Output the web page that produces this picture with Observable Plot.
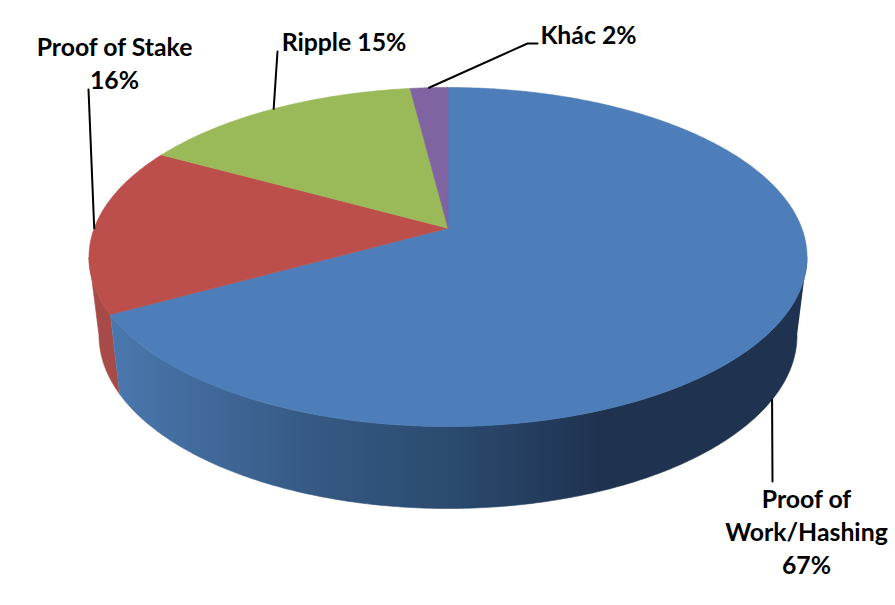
<!DOCTYPE html>
<html>
<head>
<meta charset="utf-8">
<script src="https://cdn.jsdelivr.net/npm/d3@7"></script>
<script src="https://cdn.jsdelivr.net/npm/@observablehq/plot@0.6"></script>
<style>
html,body{margin:0;padding:0;background:#fff}
svg{display:block}
</style>
</head>
<body>
<div id="chart"></div>
<script>
// Data: clockwise from 12 o'clock
const categories = ["Proof of\nWork/Hashing", "Proof of Stake", "Ripple", "Khác"];
const shares = [67, 16, 15, 2];
const separators = ["\n", "\n", " ", " "];
const colors = ["#4d7eb9", "#bc4f4c", "#9aba5a", "#8063a1"];

// Layout of the tilted disc
const W = 895, H = 605;
const topFace = {cx: 447.5, cy: 256.5, rx: 359, ry: 169.5};
const baseFace = {cx: 447.5, cy: 335, rx: 349, ry: 173};
const tilt = -0.17;
const labelX = [806, 114, 343.5, 588];
const labelY = [484.5, 32.5, 40, 33];
const labelAnchor = ["top", "top", "middle", "middle"];
const elbows = [[[772, 481]], [[88, 89]], [[277, 51]], [[527, 43], [537, 43]]];

// Slice angle -> point on unit circle after the perspective tilt
function unit(theta) {
  const x = Math.sin(theta), y = -Math.cos(theta);
  const d = 1 + tilt * y;
  return [x * Math.sqrt(1 - tilt * tilt) / d, (y + tilt) / d];
}
const onFace = (f, p) => [f.cx + f.rx * p[0], f.cy + f.ry * p[1]];
const apex = onFace(topFace, [0, tilt]);

const cum = d3.cumsum(shares);
const total = cum[cum.length - 1];
const angle = v => v / total * 2 * Math.PI;
const slices = shares.map((s, i) => ({a0: angle(cum[i] - s), a1: angle(cum[i])}));

function topSlice({a0, a1}) {
  const n = Math.max(4, Math.ceil((a1 - a0) / 0.01));
  const pts = [apex];
  for (let i = 0; i <= n; i++) pts.push(onFace(topFace, unit(a0 + (a1 - a0) * i / n)));
  pts.push(apex);
  return pts;
}
function wall(phi0, phi1) {
  const n = 200, up = [], low = [];
  for (let i = 0; i <= n; i++) {
    const p = phi0 + (phi1 - phi0) * i / n, u = [Math.cos(p), Math.sin(p)];
    up.push(onFace(topFace, u));
    low.push(onFace(baseFace, u));
  }
  return up.concat(low.reverse());
}
const splitPoint = unit(slices[0].a1);
const splitPhi = Math.atan2(splitPoint[1], splitPoint[0]);

const poly = (pts, fill) => Plot.line(pts, {x: d => d[0], y: d => d[1], fill, stroke: fill, strokeWidth: 0.6, curve: "linear"});

const wallGradient = () => {
  const defs = d3.create("svg:defs");
  const g = defs.append("linearGradient").attr("id", "blueWall")
    .attr("gradientUnits", "userSpaceOnUse").attr("x1", 110).attr("x2", 807).attr("y1", 0).attr("y2", 0);
  [[0, "#4a77ae"], [0.13, "#416a9b"], [0.28, "#365a85"], [0.49, "#2b4a6f"], [0.70, "#1f3350"], [1, "#1f3350"]]
    .forEach(([o, c]) => g.append("stop").attr("offset", o).attr("stop-color", c));
  return defs.node();
};

const anchors = slices.map((s, i) => {
  const u = unit((s.a0 + s.a1) / 2);
  return onFace(i === 0 ? baseFace : topFace, u);
});
const leaders = anchors.map((a, i) => [a, ...elbows[i]]);
const labels = categories.map((c, i) => ({
  text: `${c}${separators[i]}${shares[i]}%`, x: labelX[i], y: labelY[i], anchor: labelAnchor[i]
}));

const plot = Plot.plot({
  width: W, height: H, margin: 0,
  x: {domain: [0, W], range: [0, W], axis: null},
  y: {domain: [0, H], range: [0, H], axis: null},
  style: {background: "#fff", fontFamily: "Lato, sans-serif"},
  marks: [
    wallGradient,
    poly(wall(splitPhi, Math.PI * 1), "#a84a47"),
    poly(wall(0, splitPhi), "url(#blueWall)"),
    ...slices.map((s, i) => poly(topSlice(s), colors[i])),
    ...leaders.map(l => Plot.line(l, {x: d => d[0], y: d => d[1], stroke: "#000", strokeWidth: 2, curve: "linear"})),
    ...["top", "middle"].map(a => Plot.text(labels.filter(d => d.anchor === a), {
      x: "x", y: "y", text: "text", lineAnchor: a, lineHeight: 1.33,
      fontSize: 24.8, fontWeight: 700, fill: "#000", textAnchor: "middle"
    }))
  ]
});
document.getElementById("chart").append(plot);
</script>
</body>
</html>
